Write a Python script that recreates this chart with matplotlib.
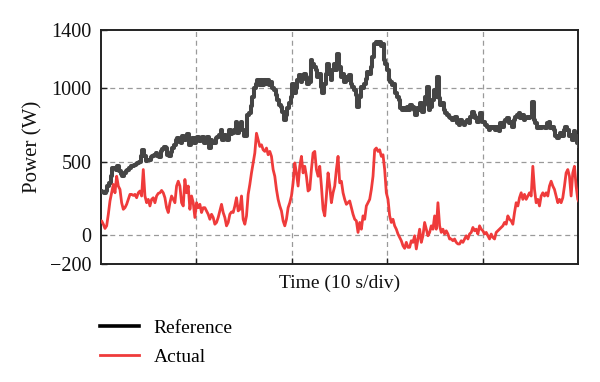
import numpy as np
import matplotlib
matplotlib.use("Agg")
import matplotlib.pyplot as plt
from matplotlib.lines import Line2D

plt.rcParams['font.family'] = ['Liberation Serif', 'DejaVu Serif']

# Sampling of the traces (s)
sample_period = 0.1745
t_start = -0.105

reference_w = [
    # 0 - 8 s
    300, 300, 292, 287, 300, 333, 355, 400, 457, 457, 446, 468, 434, 412, 400, 423, 434, 446, 457, 468,
    473, 480, 486, 491, 495, 536, 581, 536, 507, 509, 513, 529, 541, 547, 559, 536, 529, 570, 588, 599,
    593, 547, 536, 563, 593, 615, 645,
    # 8 - 16 s
    660, 631, 627, 672, 649, 660, 690, 615, 649, 660, 627, 660, 667, 638, 654, 667, 627, 649, 667, 593,
    649, 627, 627, 660, 667, 683, 717, 649, 683, 660, 649, 717, 690, 694, 717, 774, 694, 735, 774, 717,
    672, 676, 819, 830, 880, 943, 1000,
    # 16 - 24 s
    1034, 1056, 1022, 1056, 1022, 1056, 1034, 1056, 1022, 1045, 1000, 988, 955, 921, 887, 875, 841, 785, 819, 864,
    898, 943, 1034, 966, 1000, 1056, 1090, 1045, 1068, 1102, 1079, 1034, 1045, 1192, 1170, 1147, 1124, 1079, 1102, 1011,
    966, 1034, 1102, 1170, 1102, 1056, 1124,
    # 24 - 33 s
    1170, 1124, 1237, 1147, 1079, 1102, 1045, 1079, 1056, 1090, 1034, 1011, 988, 955, 875, 943, 1011, 1000, 1034, 1068,
    1113, 1102, 1147, 1215, 1305, 1317, 1305, 1317, 1294, 1305, 1192, 1170, 1124, 1056, 1045, 1022, 1034, 966, 943, 921,
    864, 853, 864, 853, 875, 853, 887,
    # 33 - 41 s
    875, 853, 819, 864, 853, 898, 841, 887, 943, 1011, 853, 875, 921, 988, 943, 1079, 932, 887, 898, 853,
    830, 819, 808, 796, 785, 796, 808, 762, 751, 785, 762, 751, 774, 785, 762, 808, 841, 819, 796, 774,
    808, 830, 774, 774, 751, 740, 717,
    # 41 - 50 s
    740, 728, 740, 717, 740, 706, 762, 740, 774, 785, 796, 762, 774, 740, 785, 808, 819, 830, 796, 819,
    785, 796, 808, 796, 808, 909, 785, 762, 728, 740, 728, 740, 740, 728, 762, 774, 728, 740, 717, 672,
    660, 672, 694, 672, 717, 740, 717, 672, 683, 649, 706, 672, 627, 604,
]

actual_w = [
    # 0 - 8 s
    84, 95, 72, 43, 61, 140, 231, 287, 344, 287, 400, 333, 310, 219, 174, 185, 208, 242, 276, 276,
    269, 276, 253, 287, 299, 265, 446, 265, 219, 242, 197, 242, 253, 219, 265, 283, 287, 303, 287, 253,
    185, 152, 219, 265, 242, 219, 333,
    # 8 - 16 s
    366, 333, 219, 197, 378, 287, 333, 174, 265, 219, 118, 219, 185, 208, 152, 185, 185, 163, 140, 106,
    140, 118, 72, 84, 118, 163, 208, 152, 118, 61, 84, 140, 156, 152, 197, 253, 163, 174, 265, 106,
    72, 129, 276, 344, 423, 491, 559,
    # 16 - 24 s
    694, 649, 604, 615, 581, 570, 593, 547, 570, 536, 446, 400, 310, 242, 197, 163, 95, 61, 106, 185,
    219, 265, 355, 491, 423, 333, 468, 536, 423, 468, 400, 299, 310, 446, 559, 570, 446, 400, 468, 333,
    174, 129, 265, 423, 333, 219, 287,
    # 24 - 33 s
    333, 446, 536, 355, 366, 287, 242, 208, 219, 231, 185, 140, 106, 95, 16, 84, 38, 129, 106, 197,
    219, 242, 310, 400, 581, 593, 570, 581, 536, 547, 446, 287, 242, 129, 84, 106, 61, 38, 5, -18,
    -41, -75, -93, -52, -86, -86, -41,
    # 33 - 41 s
    -52, -7, -97, -29, 38, -52, -7, 84, 38, -7, 16, 61, 38, 129, 38, 219, 61, 16, 38, 5,
    27, 5, -29, -29, -41, -29, -52, -63, -63, -41, -52, -29, -7, -29, 5, 16, 50, 27, 38, 5,
    61, 38, 27, 5, 16, -7, -29,
    # 41 - 50 s
    5, -18, -29, 16, 27, 38, 50, 61, 84, 72, 129, 106, 95, 72, 152, 219, 197, 253, 287, 242,
    276, 242, 265, 287, 265, 468, 310, 219, 242, 197, 265, 287, 265, 287, 265, 333, 366, 333, 310, 265,
    219, 242, 219, 253, 333, 423, 446, 400, 265, 423, 468, 333, 242, 219,
]

y_ticks = [-200, 0, 500, 1000, 1400]
series_labels = ["Reference", "Actual"]

t_ref = t_start + sample_period * np.arange(len(reference_w))
t_act = t_start + sample_period * np.arange(len(actual_w))

gray = "#454545"
red = "#ef3b3b"

fig = plt.figure(figsize=(6.0, 3.82), dpi=100)
ax = fig.add_axes([101 / 600, 1 - 264 / 382, 477 / 600, 234 / 382])

ax.plot(t_ref, reference_w, color=gray, lw=2.9, drawstyle="steps-mid", zorder=3)
ax.plot(t_act, actual_w, color=red, lw=2.0, zorder=3)

ax.set_xlim(0, 50)
ax.set_ylim(-200, 1400)
ax.set_yticks(y_ticks)
ax.set_xticks([10, 20, 30, 40])
ax.set_xticklabels([])

for v in [0, 500, 1000]:
    ax.axhline(v, color="#9a9a9a", lw=0.9, ls=(0, (4, 3)), zorder=1)
for v in [10, 20, 30, 40]:
    ax.axvline(v, color="#9a9a9a", lw=0.9, ls=(0, (4, 3)), zorder=1)

for s in ax.spines.values():
    s.set_linewidth(1.4)
    s.set_color("#222222")

ax.tick_params(direction="in", length=4, width=1.0, labelsize=14.5, pad=7, colors="#222222")
ax.tick_params(axis="y", labelcolor="#111111")

ax.set_ylabel("Power (W)", fontsize=15, labelpad=5, color="#111111")
ax.set_xlabel("Time (10 s/div)", fontsize=14, labelpad=1, color="#111111")

handles = [Line2D([], [], color="black", lw=2.6), Line2D([], [], color=red, lw=2.0)]
fig.legend(handles, series_labels, loc="center left", bbox_to_anchor=(100 / 600, 1 - 342.5 / 382),
           frameon=False, fontsize=14, handlelength=2.0, handletextpad=0.75, labelspacing=0.6,
           borderpad=0, borderaxespad=0)

fig.savefig("out.png", dpi=100)
